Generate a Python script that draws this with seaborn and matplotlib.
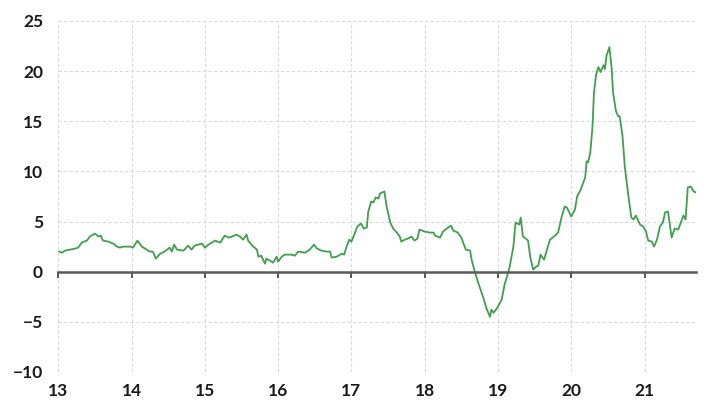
import pandas as pd
import numpy as np
import matplotlib
matplotlib.use("Agg")
import matplotlib.pyplot as plt
import seaborn as sns

# time axis in decimal years (13 = 2013)
years = [13.01, 13.05, 13.09, 13.23, 13.27, 13.32, 13.39, 13.43, 13.50, 13.55,
         13.58, 13.61, 13.68, 13.75, 13.80, 13.84, 13.89, 13.98, 14.02, 14.08,
         14.14, 14.25, 14.29, 14.33, 14.39, 14.45, 14.52, 14.55, 14.58, 14.62,
         14.71, 14.77, 14.82, 14.86, 14.96, 15.00, 15.05, 15.14, 15.21, 15.27,
         15.32, 15.37, 15.43, 15.48, 15.52, 15.57, 15.59, 15.66, 15.71, 15.73,
         15.77, 15.82, 15.84, 15.89, 15.93, 15.98, 16.00, 16.05, 16.09, 16.18,
         16.23, 16.27, 16.37, 16.43, 16.49, 16.53, 16.59, 16.66, 16.71, 16.73,
         16.80, 16.87, 16.90, 16.93, 16.97, 17.00, 17.05, 17.08, 17.13, 17.17,
         17.21, 17.23, 17.27, 17.30, 17.33, 17.37, 17.39, 17.45, 17.48, 17.53,
         17.57, 17.62, 17.66, 17.68, 17.73, 17.77, 17.82, 17.86, 17.90, 17.93,
         18.00, 18.07, 18.12, 18.14, 18.21, 18.25, 18.32, 18.36, 18.39, 18.45,
         18.50, 18.56, 18.62, 18.64, 18.68, 18.73, 18.80, 18.84, 18.89, 18.91,
         18.94, 18.99, 19.05, 19.09, 19.13, 19.16, 19.21, 19.24, 19.29, 19.31,
         19.34, 19.38, 19.41, 19.44, 19.48, 19.52, 19.55, 19.58, 19.63, 19.66,
         19.71, 19.78, 19.82, 19.87, 19.91, 19.94, 20.00, 20.05, 20.08, 20.13,
         20.19, 20.21, 20.23, 20.26, 20.29, 20.31, 20.34, 20.37, 20.40, 20.44,
         20.46, 20.48, 20.52, 20.55, 20.57, 20.61, 20.64, 20.66, 20.70, 20.73,
         20.78, 20.82, 20.85, 20.88, 20.94, 20.98, 21.02, 21.05, 21.10, 21.13,
         21.17, 21.21, 21.25, 21.28, 21.32, 21.37, 21.41, 21.46, 21.50, 21.53,
         21.56, 21.59, 21.63, 21.67, 21.70]
values = [2.0, 1.9, 2.1, 2.3, 2.4, 2.9, 3.1, 3.5, 3.8, 3.5,
          3.6, 3.1, 3.0, 2.8, 2.5, 2.4, 2.5, 2.5, 2.4, 3.1,
          2.5, 2.0, 2.0, 1.3, 1.8, 2.0, 2.4, 2.0, 2.7, 2.2,
          2.1, 2.6, 2.2, 2.6, 2.8, 2.4, 2.7, 3.1, 2.9, 3.6,
          3.4, 3.5, 3.7, 3.5, 3.2, 3.7, 3.1, 2.5, 2.2, 1.5,
          1.6, 0.8, 1.3, 1.1, 0.9, 1.5, 1.0, 1.5, 1.7, 1.7,
          1.6, 2.0, 1.9, 2.2, 2.7, 2.3, 2.1, 2.0, 2.0, 1.4,
          1.5, 1.8, 1.7, 2.4, 3.2, 3.0, 3.9, 4.5, 4.8, 4.3,
          4.4, 6.0, 7.0, 6.9, 7.4, 7.3, 7.8, 8.0, 6.5, 4.9,
          4.3, 3.9, 3.5, 3.0, 3.2, 3.3, 3.5, 3.1, 3.3, 4.2,
          4.0, 3.9, 3.9, 3.6, 3.4, 4.0, 4.4, 4.6, 4.1, 3.9,
          3.4, 2.2, 2.1, 1.2, 0.1, -1.1, -2.6, -3.6, -4.5, -3.8,
          -4.1, -3.6, -2.8, -1.3, -0.3, 0.5, 2.5, 4.9, 4.7, 5.4,
          3.5, 3.3, 3.1, 1.5, 0.2, 0.5, 0.6, 1.7, 1.2, 2.0,
          3.2, 3.6, 3.9, 5.5, 6.5, 6.4, 5.5, 6.2, 7.5, 8.2,
          9.4, 11.0, 10.9, 11.9, 14.5, 17.9, 19.7, 20.4, 19.9, 20.6,
          20.2, 21.5, 22.4, 20.4, 17.9, 16.0, 15.5, 15.5, 13.5, 10.5,
          7.5, 5.4, 5.2, 5.6, 4.7, 4.5, 4.0, 3.1, 3.0, 2.5,
          3.2, 4.5, 4.9, 5.9, 6.0, 3.4, 4.3, 4.2, 5.0, 5.6,
          5.2, 8.4, 8.5, 8.0, 7.9]

tick_years = [13, 14, 15, 16, 17, 18, 19, 20, 21]
tick_labels = ["13", "14", "15", "16", "17", "18", "19", "20", "21"]
y_ticks = [-10, -5, 0, 5, 10, 15, 20, 25]

df = pd.DataFrame({"year": years, "value": values})

sns.set_style("white")
plt.rcParams["font.family"] = ["Lato", "DejaVu Sans"]
plt.rcParams["font.weight"] = "bold"

fig = plt.figure(figsize=(7.05, 4.03), dpi=100)
ax = fig.add_axes([0.0827, 0.077, 0.9043, 0.871])

sns.lineplot(data=df, x="year", y="value", color="#3f9f4f", linewidth=1.3,
             ax=ax, zorder=2.7)

ax.set_xlim(13, 21.7)
ax.set_ylim(-10, 25)
ax.set_yticks(y_ticks)
ax.set_xticks(tick_years, tick_labels)
ax.grid(True, linestyle=(0, (3, 2)), color="#d9d9d9", linewidth=0.8)

for s in ["top", "right", "left"]:
    ax.spines[s].set_visible(False)
ax.spines["bottom"].set_position(("data", 0))
ax.spines["bottom"].set_color("#5a5a5a")
ax.spines["bottom"].set_linewidth(1.8)
ax.spines["bottom"].set_zorder(3)

# ticks hang off the zero line, labels pushed down under the plot
ax.tick_params(axis="x", bottom=True, direction="out", length=4.5, width=1.3,
               color="#4a4a4a", pad=76, labelsize=12.5, labelcolor="#1a1a1a")
ax.tick_params(axis="y", left=False, length=0, pad=11, labelsize=12.5,
               labelcolor="#1a1a1a")

ax.set_xlabel("")
ax.set_ylabel("")

fig.savefig("out.png", dpi=100)
